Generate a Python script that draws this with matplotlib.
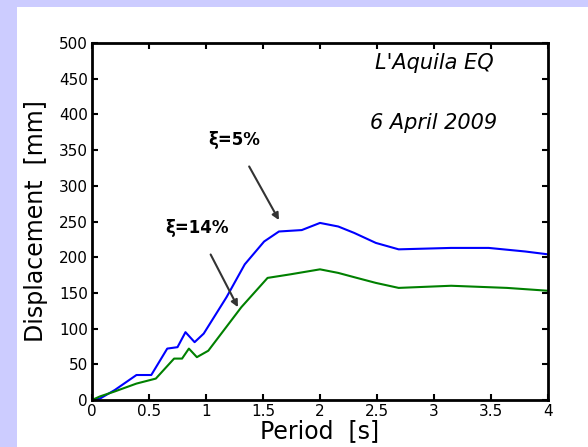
import numpy as np
import matplotlib.pyplot as plt
from matplotlib.patches import Rectangle

# spectral displacement, L'Aquila 2009
T5 = [0, 0.07, 0.2, 0.39, 0.52, 0.66, 0.75, 0.82, 0.9, 0.98, 1.18, 1.34, 1.51, 1.64,
      1.84, 2.0, 2.16, 2.3, 2.49, 2.69, 3.15, 3.48, 3.8, 4.0]
D5 = [0, 2, 14, 35, 35, 72, 74, 95, 81, 93, 144, 190, 222, 236,
      238, 248, 243, 234, 220, 211, 213, 213, 208, 204]
T14 = [0, 0.07, 0.2, 0.39, 0.56, 0.72, 0.79, 0.85, 0.92, 1.02, 1.31, 1.54, 1.74,
       2.0, 2.16, 2.3, 2.49, 2.69, 3.15, 3.64, 4.0]
D14 = [0, 5, 12, 23, 30, 58, 58, 72, 60, 69, 130, 171, 176,
       183, 178, 172, 164, 157, 160, 157, 153]

xticks = [0, 0.5, 1, 1.5, 2, 2.5, 3, 3.5, 4]
xlabels = ['0', '0.5', '1', '1.5', '2', '2.5', '3', '3.5', '4']
yticks = list(range(0, 501, 50))

fig = plt.figure(figsize=(5.88, 4.47), dpi=100)
fig.patch.set_facecolor('#ccccff')
fig.patches.append(Rectangle((17/588, 0), 1, 440/447, transform=fig.transFigure,
                             facecolor='white', edgecolor='none', zorder=-10))

ax = fig.add_axes([92/588, 47/447, 456/588, 357/447])
ax.plot(T5, D5, color='#0000ff', lw=1.5)
ax.plot(T14, D14, color='#008000', lw=1.5)

ax.set_xlim(0, 4)
ax.set_ylim(0, 500)
ax.set_xticks(xticks)
ax.set_xticklabels(xlabels)
ax.set_yticks(yticks)
ax.tick_params(direction='in', top=True, right=True, labelsize=11, length=4, width=1.5, pad=3)
for s in ax.spines.values():
    s.set_linewidth(2)

ax.set_xlabel('Period  [s]', fontsize=17, labelpad=0)
ax.set_ylabel('Displacement  [mm]', fontsize=17, labelpad=8)

ax.text(3.0, 472, "L'Aquila EQ", style='italic', fontsize=15, ha='center', va='center')
ax.text(3.0, 388, "6 April 2009", style='italic', fontsize=15, ha='center', va='center')

ax.annotate('ξ=5%', xy=(1.64, 252), xytext=(1.25, 364), fontsize=12, fontweight='bold',
            ha='center', va='center',
            arrowprops=dict(arrowstyle='-|>', color='#333333', lw=1.5, mutation_scale=10,
                            shrinkA=12, shrinkB=0))
ax.annotate('ξ=14%', xy=(1.28, 130), xytext=(0.92, 241), fontsize=12, fontweight='bold',
            ha='center', va='center',
            arrowprops=dict(arrowstyle='-|>', color='#333333', lw=1.5, mutation_scale=10,
                            shrinkA=12, shrinkB=0))

fig.savefig('out.png', dpi=100)
